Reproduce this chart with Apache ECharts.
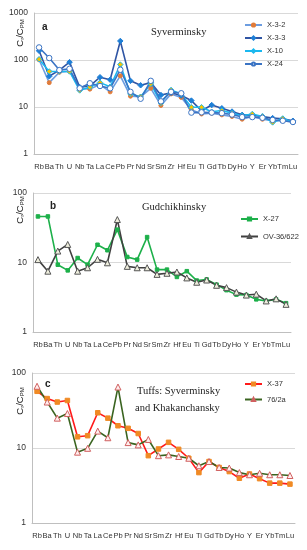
<!DOCTYPE html>
<html><head><meta charset="utf-8">
<script src="https://cdn.jsdelivr.net/npm/echarts@6/dist/echarts.min.js"></script>
<style>html,body{margin:0;padding:0;background:#fff}#c{width:307px;height:550px}</style>
</head><body><div id="c"></div>
<script>
var elements = ['Rb','Ba','Th','U','Nb','Ta','La','Ce','Pb','Pr','Nd','Sr','Sm','Zr','Hf','Eu','Ti','Gd','Tb','Dy','Ho','Y','Er','Yb','Tm','Lu'];
var yTicksA = [1,10,100,1000];
var yTicksBC = [1,10,100];

// Panel a: Syverminsky
var X_3_2 = [101,33,55,58,25,24,30,21,46,17,16.5,25,10.8,19,16,8.7,7.1,7.4,6.8,6.3,5.5,6.3,5.5,5.1,5.1,4.8];
var X_3_3 = [157,45,61,90,26.5,28,43,38,254,36,29,33,18,20,17.5,13.7,8.3,11,9.4,8,6.8,6.7,6.3,5.8,5.6,5.1];
var X_10  = [104,57,57,57,22.5,26.5,33,27,80,19,16.5,31,12.2,23,19,9.9,9.9,7.9,8.4,7.4,6.5,7.1,6.3,4.7,5.7,4.8];
var X_24  = [185,110,61,65,25,32,28,25,62,21,15,36,13.2,21,19.6,7.6,7.7,7.6,7.4,6.9,6.1,6.1,5.9,5.3,5.1,4.8];
// Panel b: Gudchikhinsky
var X_27  = [46,46,9.3,7.7,11.6,9.3,18,15,29.7,12,11,23.2,7.9,7.9,6.2,7.5,5.5,5.7,4.8,4.0,3.45,3.4,2.95,2.8,2.95,2.6];
var OV_36_622 = [11,7.5,14.6,18.2,7.5,8.4,11.1,9.9,41.5,8.8,8.4,8.4,6.75,7.0,7.3,6.0,5.2,5.6,4.7,4.35,3.75,3.4,3.5,2.8,3.0,2.5];
// Panel c: Tuffs
var X_37  = [57,45.6,41,43,14.1,14.6,29.5,25,19.8,18.3,15.6,7.9,9.7,11.9,9.6,7.3,4.7,6.6,5.5,4.85,3.95,4.5,3.9,3.4,3.4,3.3];
var T76_2a = [66.6,41,25,28.8,8.8,9.9,16.8,13.7,65,11.8,11,13,7.9,8.1,7.7,7.3,5.8,6.6,5.5,5.4,4.7,4.4,4.6,4.4,4.4,4.3];

var chart = echarts.init(document.getElementById('c'), null, {renderer:'canvas'});

var grids = [
  {left:34, top:13, width:264, height:141},
  {left:33, top:193, width:258, height:139},
  {left:32, top:373, width:263, height:150}
];
function xAx(i){
  return {type:'category', gridIndex:i, data:elements, boundaryGap:true,
    axisLine:{lineStyle:{color:'#bfbfbf'}}, axisTick:{show:false},
    axisLabel:{interval:0, fontSize:7.5, color:'#333', margin:9, fontFamily:'Liberation Sans'}};
}
function yAx(i, max){
  return {type:'log', logBase:10, gridIndex:i, min:1, max:max,
    axisLine:{show:true, lineStyle:{color:'#bfbfbf'}}, axisTick:{show:false},
    splitLine:{show:true, lineStyle:{color:'#d9d9d9', width:1}},
    axisLabel:{fontSize:8.5, color:'#333', margin:6, fontFamily:'Liberation Sans',
      formatter:function(v){return String(Math.round(v));}}};
}
function ser(name, data, i, lineColor, sym, symSize, fill, border){
  return {name:name, type:'line', xAxisIndex:i, yAxisIndex:i, data:data,
    symbol:sym, symbolSize:symSize, showAllSymbol:true,
    lineStyle:{color:lineColor, width:1.6},
    itemStyle:{color:fill, borderColor:border, borderWidth:1},
    emphasis:{disabled:true}, animation:false};
}
function yname(x, y){
  return {type:'text', x:x, y:y, rotation:Math.PI/2,
    style:{text:'{m|C}{s|r}{m|/C}{s|PM}', align:'center', verticalAlign:'middle',
      rich:{m:{fontSize:9.5, fill:'#222', fontFamily:'Liberation Sans'}, s:{fontSize:6, fill:'#222', fontFamily:'Liberation Sans', padding:[5,0,0,0]}}}};
}
var legText = {fontSize:7.5, color:'#333', fontFamily:'Liberation Sans'};
var option = {
  animation:false,
  grid:grids,
  xAxis:[xAx(0), xAx(1), xAx(2)],
  yAxis:[yAx(0,1000), yAx(1,100), yAx(2,100)],
  legend:[
    {data:['X-3-2','X-3-3','X-10','X-24'], orient:'vertical', left:244, top:21, padding:0, itemWidth:17, itemHeight:4, itemGap:5,
      textStyle:legText, selectedMode:false},
    {data:['X-27','OV-36/622'], orient:'vertical', left:240, top:215, padding:0, itemWidth:17, itemHeight:4, itemGap:9.5,
      textStyle:legText, selectedMode:false},
    {data:['X-37','76/2a'], orient:'vertical', left:244, top:380, padding:0, itemWidth:17, itemHeight:4, itemGap:7.5,
      textStyle:legText, selectedMode:false}
  ],
  series:[
    ser('X-3-2', X_3_2, 0, '#6d9de0', 'circle', 4, '#e07b39', '#e07b39'),
    ser('X-3-3', X_3_3, 0, '#2f55a4', 'diamond', 5.5, '#1e7fd6', '#1e7fd6'),
    ser('X-10', X_10, 0, '#1ab8f0', 'diamond', 5.5, '#f5c400', '#1ab8f0'),
    ser('X-24', X_24, 0, '#3b74c4', 'circle', 5.5, '#ffffff', '#3b74c4'),
    ser('X-27', X_27, 1, '#1db04a', 'rect', 3.5, '#1db04a', '#1db04a'),
    ser('OV-36/622', OV_36_622, 1, '#404040', 'triangle', 6, '#eeeedd', '#555555'),
    ser('X-37', X_37, 2, '#ff1a1a', 'rect', 4.5, '#f08a24', '#f08a24'),
    ser('76/2a', T76_2a, 2, '#3a6420', 'triangle', 6, '#ffeeee', '#d06060')
  ],
  graphic:[
    yname(20, 33), yname(20, 210), yname(20, 401),
    {type:'text', left:42, top:22, style:{text:'a', fontSize:10, fontWeight:'bold', fill:'#222', fontFamily:'Liberation Sans'}},
    {type:'text', left:50, top:201, style:{text:'b', fontSize:10, fontWeight:'bold', fill:'#222', fontFamily:'Liberation Sans'}},
    {type:'text', left:45, top:379, style:{text:'c', fontSize:10, fontWeight:'bold', fill:'#222', fontFamily:'Liberation Sans'}},
    {type:'text', left:151, top:27, style:{text:'Syverminsky', fontSize:10.5, fill:'#222', fontFamily:'Liberation Serif'}},
    {type:'text', left:142, top:202, style:{text:'Gudchikhinsky', fontSize:10.5, fill:'#222', fontFamily:'Liberation Serif'}},
    {type:'text', left:137, top:386, style:{text:'Tuffs: Syverminsky', fontSize:10.5, fill:'#222', fontFamily:'Liberation Serif'}},
    {type:'text', left:135, top:403, style:{text:'and Khakanchansky', fontSize:10.5, fill:'#222', fontFamily:'Liberation Serif'}}
  ]
};
chart.setOption(option);
</script></body></html>
